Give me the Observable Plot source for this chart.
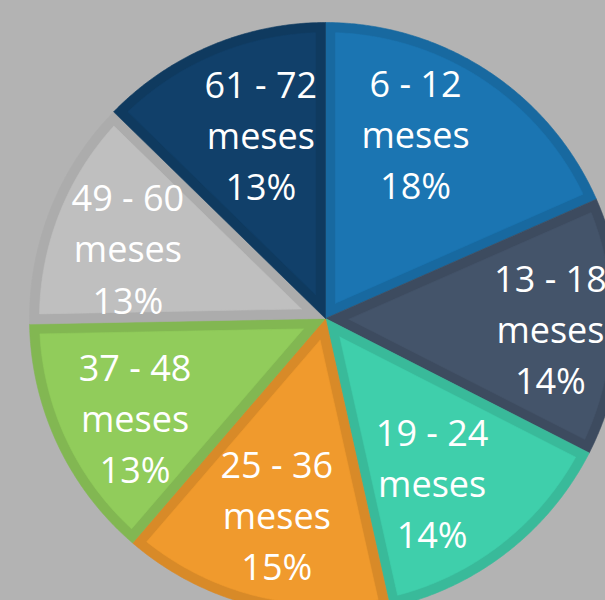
<!DOCTYPE html>
<html><head><meta charset="utf-8">
<script src="https://cdn.jsdelivr.net/npm/d3@7"></script>
<script src="https://cdn.jsdelivr.net/npm/@observablehq/plot@0.6"></script>
<style>html,body{margin:0;padding:0;background:#b3b3b3;overflow:hidden}</style>
</head><body><div id="chart"></div>
<script>
// Data
const ranges = ["6 - 12", "13 - 18", "19 - 24", "25 - 36", "37 - 48", "49 - 60", "61 - 72"];
const unit = "meses";
const shares = [18.4, 14.1, 14.0, 14.8, 13.4, 12.6, 12.7];
const palette = ["#1b75b2", "#44546a", "#3fcfab", "#f09a2d", "#91cc5b", "#bfbfbf", "#11406a"];

// Layout
const W = 605, H = 600, CX = 325, CY = 318, R = 296, BORDER = 10, LABEL_R = 205;
const STEP = Math.PI / 360;
// small pixel nudges of each label away from the slice bisector (layout only)
const labelNudge = [[-22, -15], [20, 2], [-19, 0], [1, -5], [-5, 10], [-7, 3], [15, 3]];

const arcs = d3.pie().sort(null).value(d => d)(shares);
const pt = (r, a) => ({x: r * Math.sin(a), y: -r * Math.cos(a)});

const outer = [], inner = [];
arcs.forEach((s, i) => {
  const a0 = s.startAngle, a1 = s.endAngle, mid = (a0 + a1) / 2, th = a1 - a0;
  const dark = d3.rgb(palette[i]).darker(0.3).formatHex();
  // outer (border colour) wedge
  const ko = "o" + i;
  outer.push({k: ko, fill: dark, ...pt(0, 0)});
  for (let a = a0; a < a1; a += STEP) outer.push({k: ko, fill: dark, ...pt(R, a)});
  outer.push({k: ko, fill: dark, ...pt(R, a1)});
  outer.push({k: ko, fill: dark, ...pt(0, 0)});
  // inner inset wedge
  const ki = "i" + i;
  const ri = R - BORDER, dl = Math.asin(BORDER / ri);
  const apex = pt(BORDER / Math.sin(th / 2), mid);
  inner.push({k: ki, fill: palette[i], ...apex});
  for (let a = a0 + dl; a < a1 - dl; a += STEP) inner.push({k: ki, fill: palette[i], ...pt(ri, a)});
  inner.push({k: ki, fill: palette[i], ...pt(ri, a1 - dl)});
  inner.push({k: ki, fill: palette[i], ...apex});
});

const labels = arcs.map((s, i) => {
  const mid = (s.startAngle + s.endAngle) / 2;
  const p = pt(LABEL_R, mid);
  return {x: p.x + labelNudge[i][0], y: p.y + labelNudge[i][1],
          text: `${ranges[i]}\n${unit}\n${Math.round(shares[i])}%`};
});

const chart = Plot.plot({
  width: W, height: H, margin: 0,
  x: {domain: [-CX, W - CX], range: [0, W], axis: null},
  y: {domain: [-CY, H - CY], range: [0, H], axis: null},
  color: {type: "identity"},
  style: {background: "#b3b3b3"},
  marks: [
    Plot.line(outer, {x: "x", y: "y", z: "k", fill: "fill", stroke: "fill", strokeWidth: 0.6, curve: "linear"}),
    Plot.line(inner, {x: "x", y: "y", z: "k", fill: "fill", stroke: "fill", strokeWidth: 0.6, curve: "linear"}),
    Plot.text(labels, {x: "x", y: "y", text: "text", fill: "white", fontSize: 36, lineHeight: 1.42,
      fontFamily: "Open Sans", textAnchor: "middle"})
  ]
});
document.getElementById("chart").appendChild(chart);
</script>
</body></html>
